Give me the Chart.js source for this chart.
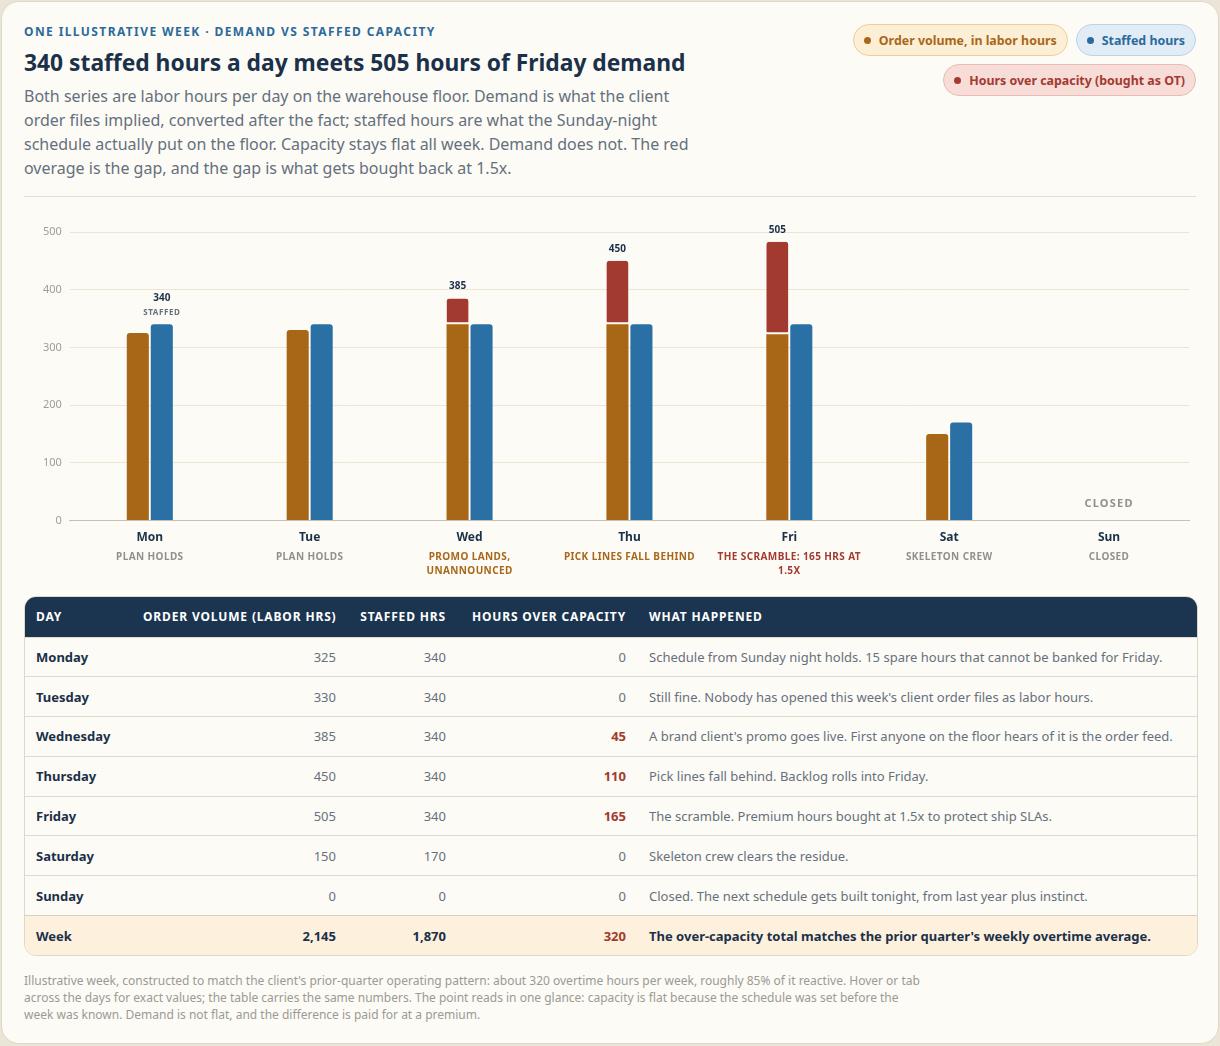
<!DOCTYPE html>
<html>
<head>
<meta charset="utf-8">
<script src="https://cdn.jsdelivr.net/npm/chart.js@4.4.1/dist/chart.umd.min.js"></script>
<style>
  body { margin: 0; background: #ebe5d8; font-family: "Noto Sans", sans-serif; }
  .card {
    position: relative; margin: 1px; width: 1172px; height: 998px;
    padding: 21px 22px 22px 22px; background: #fdfbf6;
    border: 1px solid #e0d8c7; border-radius: 18px;
  }
  .eyebrow { font-size: 12px; font-weight: 700; letter-spacing: 1.4px; color: #2b6a9b; line-height: 18px; }
  h1 { margin: 6px 0 0; font-size: 22.8px; font-weight: 700; color: #1b3049; line-height: 32px; }
  .desc { margin: 5px 0 0; width: 682px; font-size: 16px; line-height: 24px; color: #65707d; }
  .legend { position: absolute; right: 22px; top: 22px; width: 360px; display: flex; flex-wrap: wrap; justify-content: flex-end; gap: 8px; }
  .pill { height: 32px; line-height: 32px; border-radius: 16px; padding: 0 10px; font-size: 12.4px; font-weight: 700; border: 1px solid; box-sizing: border-box; }
  .pill i { display: inline-block; width: 7px; height: 7px; border-radius: 50%; margin-right: 8px; vertical-align: 1px; }
  .p1 { background: #fdefd6; border-color: #eecf98; color: #a8671a; }
  .p1 i { background: #a8671a; }
  .p2 { background: #e1ecf6; border-color: #b9d3ea; color: #2b6a9b; }
  .p2 i { background: #2b6a9b; }
  .p3 { background: #f7dcd7; border-color: #eabbb4; color: #a33a30; }
  .p3 i { background: #a33a30; }
  hr { position: absolute; left: 22px; right: 22px; top: 194px; margin: 0; border: 0; border-top: 1px solid #e6decd; }
  .chart { position: absolute; left: 22px; top: 205px; width: 1174px; height: 380px; }
  .tablewrap { position: absolute; left: 22px; top: 594px; width: 1172px; border: 1px solid #e0d8c7; border-radius: 12px; overflow: hidden; }
  table { width: 100%; border-collapse: collapse; font-size: 13px; table-layout: fixed; }
  th, td { box-sizing: border-box; }
  th { background: #1b3550; color: #fff; font-size: 12px; font-weight: 700; letter-spacing: 0.85px; text-transform: uppercase; text-align: left; height: 40px; padding: 0 10px 0 11px; white-space: nowrap; }
  td { height: 39.8px; padding: 0 10px 0 11px; border-top: 1px solid #e3dac9; color: #66707c; white-space: nowrap; }
  .num { text-align: right; }
  th.num, td.num { padding-right: 12px; }
  td.day { font-weight: 700; color: #1b3049; }
  td.red { color: #a33a30; font-weight: 700; }
  tr.week td { background: #fdf1dd; font-weight: 700; color: #1b3049; border-top: 1px solid #d9cdb8; }
  tr.week td.red { color: #a33a30; }
  .foot { position: absolute; left: 22px; top: 970px; width: 900px; font-size: 12px; line-height: 17px; color: #9b9a94; }
</style>
</head>
<body>
<div class="card">
  <div class="eyebrow">ONE ILLUSTRATIVE WEEK · DEMAND VS STAFFED CAPACITY</div>
  <h1>340 staffed hours a day meets 505 hours of Friday demand</h1>
  <p class="desc">Both series are labor hours per day on the warehouse floor. Demand is what the client order files implied, converted after the fact; staffed hours are what the Sunday-night schedule actually put on the floor. Capacity stays flat all week. Demand does not. The red overage is the gap, and the gap is what gets bought back at 1.5x.</p>
  <div class="legend">
    <span class="pill p1"><i></i>Order volume, in labor hours</span>
    <span class="pill p2"><i></i>Staffed hours</span>
    <span class="pill p3"><i></i>Hours over capacity (bought as OT)</span>
  </div>
  <hr>
  <div class="chart"><canvas id="weekChart"></canvas></div>
  <div class="tablewrap"><table id="weekTable"></table></div>
  <div class="foot">Illustrative week, constructed to match the client's prior-quarter operating pattern: about 320 overtime hours per week, roughly 85% of it reactive. Hover or tab across the days for exact values; the table carries the same numbers. The point reads in one glance: capacity is flat because the schedule was set before the week was known. Demand is not flat, and the difference is paid for at a premium.</div>
</div>

<script>
const days = ['Mon', 'Tue', 'Wed', 'Thu', 'Fri', 'Sat', 'Sun'];
const dayNames = ['Monday', 'Tuesday', 'Wednesday', 'Thursday', 'Friday', 'Saturday', 'Sunday'];
const notes = ['PLAN HOLDS', 'PLAN HOLDS', ['PROMO LANDS,', 'UNANNOUNCED'], 'PICK LINES FALL BEHIND', ['THE SCRAMBLE: 165 HRS AT', '1.5X'], 'SKELETON CREW', 'CLOSED'];
const noteColors = ['#8f918c', '#8f918c', '#a8671a', '#a8671a', '#a33a30', '#8f918c', '#8f918c'];

// table numbers
const demand = [325, 330, 385, 450, 505, 150, 0];
const staffed = [340, 340, 340, 340, 340, 170, 0];
const overCapacity = [0, 0, 45, 110, 165, 0, 0];
const happened = [
  'Schedule from Sunday night holds. 15 spare hours that cannot be banked for Friday.',
  "Still fine. Nobody has opened this week's client order files as labor hours.",
  "A brand client's promo goes live. First anyone on the floor hears of it is the order feed.",
  'Pick lines fall behind. Backlog rolls into Friday.',
  'The scramble. Premium hours bought at 1.5x to protect ship SLAs.',
  'Skeleton crew clears the residue.',
  'Closed. The next schedule gets built tonight, from last year plus instinct.'
];
const weekNote = "The over-capacity total matches the prior quarter's weekly overtime average.";

// bar segments as drawn
const withinBar = [325, 330, 340, 340, 323, 150, 0];
const overBar = [0, 0, 45, 110, 160, 0, 0];
const yTicks = [0, 100, 200, 300, 400, 500];

const brown = '#a86716', red = '#a33a30', blue = '#2a70a4', cardBg = '#fdfbf6';

// table
const tbl = document.getElementById('weekTable');
let html = '<tr><th style="width:107px">Day</th><th class="num" style="width:216px">Order volume (labor hrs)</th><th class="num" style="width:110px">Staffed hrs</th><th class="num" style="width:180px">Hours over capacity</th><th>What happened</th></tr>';
dayNames.forEach((d, i) => {
  html += `<tr><td class="day">${d}</td><td class="num">${demand[i]}</td><td class="num">${staffed[i]}</td>` +
    `<td class="num ${overCapacity[i] > 0 ? 'red' : ''}">${overCapacity[i]}</td><td>${happened[i]}</td></tr>`;
});
const sum = a => a.reduce((s, v) => s + v, 0).toLocaleString('en-US');
html += `<tr class="week"><td>Week</td><td class="num">${sum(demand)}</td><td class="num">${sum(staffed)}</td><td class="num red">${sum(overCapacity)}</td><td>${weekNote}</td></tr>`;
tbl.innerHTML = html;

// labels drawn on top of the bars and under the day names
const annotations = {
  id: 'annotations',
  afterDatasetsDraw(chart) {
    const ctx = chart.ctx, x = chart.scales.x, y = chart.scales.y;
    const demandMeta = chart.getDatasetMeta(1), staffMeta = chart.getDatasetMeta(2);
    ctx.save();
    ctx.textAlign = 'center';
    ctx.textBaseline = 'alphabetic';
    days.forEach((d, i) => {
      if (overBar[i] > 0) {
        const bar = demandMeta.data[i];
        ctx.fillStyle = '#1b3049';
        ctx.font = '700 10px "Noto Sans"';
        ctx.fillText(String(demand[i]), bar.x, bar.y - 9);
      }
    });
    // Monday staffed callout
    const mon = staffMeta.data[0];
    ctx.fillStyle = '#1b3049';
    ctx.font = '700 10px "Noto Sans"';
    ctx.fillText(String(staffed[0]), mon.x, mon.y - 23);
    ctx.fillStyle = '#66707c';
    ctx.font = '700 8px "Noto Sans"';
    ctx.letterSpacing = '0.6px';
    ctx.fillText('STAFFED', mon.x, mon.y - 9);
    // closed day
    const sunIdx = 6;
    ctx.fillStyle = '#8f918c';
    ctx.font = '700 11px "Noto Sans"';
    ctx.letterSpacing = '1.2px';
    ctx.fillText('CLOSED', x.getPixelForValue(sunIdx), y.getPixelForValue(0) - 14);
    // notes under the day names
    ctx.letterSpacing = '0.4px';
    ctx.font = '700 10px "Noto Sans"';
    notes.forEach((n, i) => {
      const lines = Array.isArray(n) ? n : [n];
      ctx.fillStyle = noteColors[i];
      lines.forEach((l, k) => ctx.fillText(l, x.getPixelForValue(i), y.bottom + 39 + k * 14));
    });
    ctx.restore();
  }
};

new Chart(document.getElementById('weekChart'), {
  type: 'bar',
  data: {
    labels: days,
    datasets: [
      { label: 'Order volume, in labor hours', data: withinBar, stack: 'demand', backgroundColor: brown, borderRadius: 3 },
      { label: 'Hours over capacity', data: overBar, stack: 'demand', backgroundColor: red, borderRadius: 3,
        borderColor: cardBg, borderWidth: { top: 0, left: 0, right: 0, bottom: 2 }, borderSkipped: false },
      { label: 'Staffed hours', data: staffed, stack: 'staffed', backgroundColor: blue, borderRadius: 3 }
    ]
  },
  options: {
    responsive: true,
    maintainAspectRatio: false,
    animation: false,
    categoryPercentage: 0.3,
    barPercentage: 0.92,
    layout: { padding: { top: 25, left: 11, right: 9, bottom: 32 } },
    plugins: { legend: { display: false }, tooltip: { enabled: false } },
    scales: {
      x: {
        stacked: true,
        grid: { display: false, drawTicks: false },
        border: { color: '#cbbfae' },
        ticks: { color: '#1b3049', font: { family: 'Noto Sans', size: 12, weight: '700' }, padding: 10 }
      },
      y: {
        stacked: true,
        min: 0, max: 500,
        afterBuildTicks: s => { s.ticks = yTicks.map(v => ({ value: v })); },
        grid: { color: '#ede5d4', drawTicks: false },
        border: { display: false },
        ticks: { color: '#a09d96', font: { family: 'Noto Sans', size: 11 }, padding: 8 }
      }
    }
  },
  plugins: [annotations]
});
</script>
</body>
</html>
